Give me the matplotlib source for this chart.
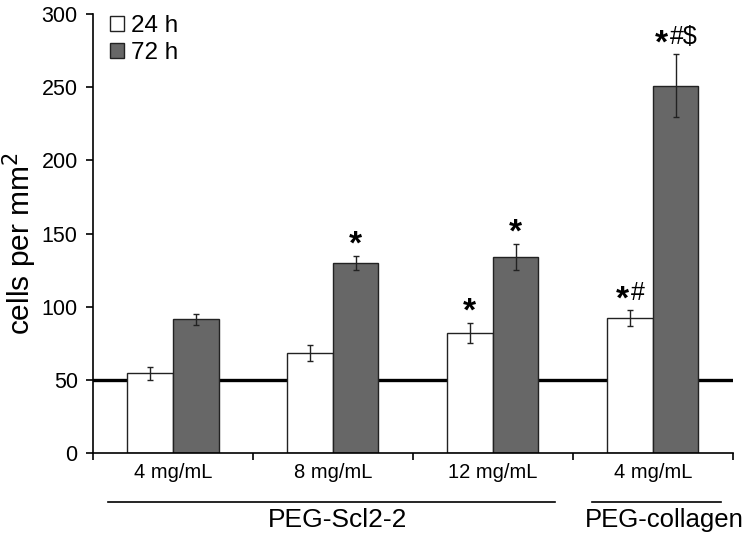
import matplotlib
matplotlib.use("Agg")
import matplotlib.pyplot as plt
import matplotlib.transforms as mtransforms
from matplotlib.patches import Patch
import numpy as np

plt.rcParams['font.family'] = ['Liberation Sans', 'DejaVu Sans']

categories = ["4 mg/mL", "8 mg/mL", "12 mg/mL", "4 mg/mL"]
vals_24h = [54.5, 68.5, 82, 92]
err_24h = [4.5, 5.5, 7, 5.5]
vals_72h = [91.5, 130, 134, 251]
err_72h = [3.8, 4.8, 9, 21.5]
annot_24h = ["", "", "*", "*#"]
annot_72h = ["", "*", "*", "*#$"]
groups = ["PEG-Scl2-2", "PEG-collagen"]
baseline = 50

fig = plt.figure(figsize=(7.5, 5.4), dpi=100)
ax = fig.add_axes([0.124, 0.161, 0.853, 0.813])

x = np.arange(len(categories))
w = 0.285
ax.axhline(baseline, color='black', lw=2.4, zorder=1)
ax.bar(x - w / 2, vals_24h, w, color='white', edgecolor='#222222', lw=1.0, zorder=2)
ax.bar(x + w / 2, vals_72h, w, color='#676767', edgecolor='#222222', lw=1.0, zorder=2)
ax.errorbar(x - w / 2, vals_24h, yerr=err_24h, fmt='none', ecolor='#222222', elinewidth=1, capsize=2.5, zorder=3)
ax.errorbar(x + w / 2, vals_72h, yerr=err_72h, fmt='none', ecolor='#222222', elinewidth=1, capsize=2.5, zorder=3)

STAR_W = 14.0   # approx pixel advance of bold star
CHAR_W = 14.0   # approx pixel advance of the following symbols
GAP = 10        # pixels between error-bar top and annotation ink


def add_annot(xi, ytop, label):
    rest = label[1:]
    total = STAR_W + CHAR_W * len(rest)
    left = -total / 2
    ax.annotate('*', (xi, ytop), xytext=(left, GAP - 8), textcoords='offset pixels',
                ha='left', va='baseline', fontsize=24, fontweight='bold', zorder=4)
    if rest:
        ax.annotate(rest, (xi, ytop), xytext=(left + STAR_W + 1, GAP), textcoords='offset pixels',
                    ha='left', va='baseline', fontsize=18, zorder=4)


for xi, v, e, a in zip(x - w / 2, vals_24h, err_24h, annot_24h):
    if a:
        add_annot(xi, v + e, a)
for xi, v, e, a in zip(x + w / 2, vals_72h, err_72h, annot_72h):
    if a:
        add_annot(xi, v + e, a)

ax.set_xlim(-0.5, 3.5)
ax.set_ylim(0, 300)
ax.set_yticks(np.arange(0, 301, 50))
ax.set_xticks(np.arange(-0.5, 3.6, 1.0))
ax.set_xticklabels([])
ax.set_xticks(x, minor=True)
ax.set_xticklabels(categories, minor=True, fontsize=14.5)
ax.tick_params(axis='x', which='minor', length=0, pad=7)
ax.tick_params(axis='x', which='major', length=5, direction='out', width=1.2)
ax.tick_params(axis='y', length=5, direction='out', width=1.2, labelsize=15.5, pad=6)
for s in ['top', 'right']:
    ax.spines[s].set_visible(False)
for s in ['left', 'bottom']:
    ax.spines[s].set_linewidth(1.2)
ax.set_ylabel("cells per mm$^2$", fontsize=21.5)
ax.yaxis.set_label_coords(-0.085, 0.478)

trans = mtransforms.blended_transform_factory(ax.transData, ax.transAxes)
ax.plot([-0.406, 2.39], [-0.112, -0.112], transform=trans, color='black', lw=1.2, clip_on=False)
ax.plot([2.62, 3.425], [-0.112, -0.112], transform=trans, color='black', lw=1.2, clip_on=False)
ax.text(1.03, -0.153, groups[0], transform=trans, ha='center', va='center', fontsize=19)
ax.text(3.07, -0.153, groups[1], transform=trans, ha='center', va='center', fontsize=18.5)

handles = [Patch(facecolor='white', edgecolor='#222222', label='24 h'),
           Patch(facecolor='#676767', edgecolor='#222222', label='72 h')]
ax.legend(handles=handles, loc='upper left', bbox_to_anchor=(0.027, 0.997), frameon=False,
          fontsize=17.5, handlelength=0.55, handleheight=0.55, handletextpad=0.3,
          labelspacing=0.2, borderpad=0, borderaxespad=0)

fig.savefig("out.png", dpi=100)
